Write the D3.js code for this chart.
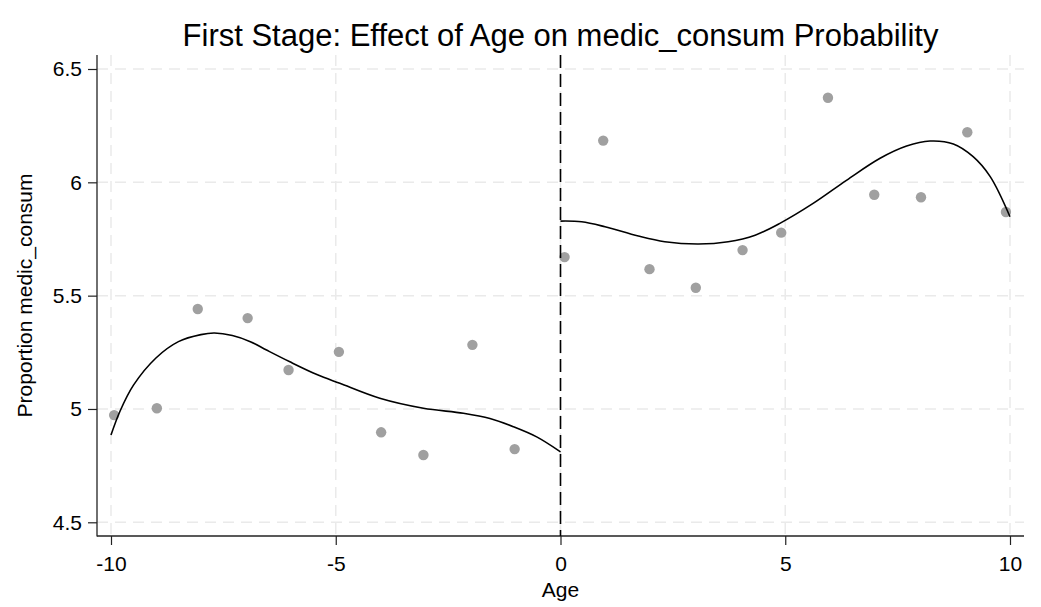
<!DOCTYPE html>
<html>
<head>
<meta charset="utf-8">
<script src="https://cdn.jsdelivr.net/npm/d3@7"></script>
<style>
  html, body { margin: 0; padding: 0; background: #fff; }
  svg { display: block; font-family: "Liberation Sans", Arial, sans-serif; }
</style>
</head>
<body>
<svg id="chart" width="1041" height="607"></svg>
<script>
// ---- data ----
const titleText = "First Stage: Effect of Age on medic_consum Probability";
const xLabel = "Age";
const yLabel = "Proportion medic_consum";
const xTicks = [-10, -5, 0, 5, 10];
const yTicks = [4.5, 5, 5.5, 6, 6.5];

// binned means
const binX = [-9.93, -8.98, -8.07, -6.96, -6.05, -4.93, -3.99, -3.05, -1.96, -1.02,
              0.09, 0.95, 1.98, 3.01, 4.05, 4.91, 5.95, 6.98, 8.02, 9.05, 9.91];
const binY = [4.973, 5.003, 5.441, 5.401, 5.172, 5.252, 4.897, 4.797, 5.283, 4.823,
              5.670, 6.184, 5.617, 5.535, 5.701, 5.778, 6.373, 5.945, 5.934, 6.221, 5.869];

// fitted polynomial (left of cutoff)
const leftFitX = [-10, -9.8, -9.5, -9, -8.5, -8, -7.7, -7.3, -6.9, -6.54, -6.02,
                  -5.42, -4.91, -4.02, -3.05, -2.16, -1.57, -1.05, -0.53, 0];
const leftFitY = [4.885, 4.990, 5.105, 5.225, 5.297, 5.328, 5.335, 5.324, 5.297, 5.260, 5.208,
                  5.152, 5.113, 5.047, 5.003, 4.981, 4.958, 4.922, 4.877, 4.811];
// fitted polynomial (right of cutoff)
const rightFitX = [0, 0.47, 0.99, 1.73, 2.32, 3.07, 3.73, 4.33, 4.88, 5.62, 6.37,
                   7.11, 7.70, 8.22, 8.74, 9.18, 9.56, 10];
const rightFitY = [5.829, 5.826, 5.804, 5.763, 5.738, 5.728, 5.738, 5.767, 5.819, 5.907, 6.010,
                   6.106, 6.160, 6.182, 6.169, 6.113, 6.025, 5.848];

const cutoff = 0;

// ---- layout ----
const svg = d3.select("#chart");
const x = d3.scaleLinear().domain([-10, 10]).range([111, 1010]);
const y = d3.scaleLinear().domain([4.5, 6.5]).range([522.3, 69]);
const plotLeft = 97, plotRight = 1024, plotTop = 55, plotBottom = 536;

// gridlines
const grid = svg.append("g");
grid.selectAll("line.h").data(yTicks).join("line")
  .attr("x1", plotLeft).attr("x2", plotRight)
  .attr("y1", d => y(d)).attr("y2", d => y(d))
  .attr("stroke", "#eaeaea").attr("stroke-width", 1.5)
  .attr("stroke-dasharray", "11,7");
grid.selectAll("line.v").data(xTicks).join("line")
  .attr("y1", plotTop).attr("y2", plotBottom)
  .attr("x1", d => x(d)).attr("x2", d => x(d))
  .attr("stroke", "#eaeaea").attr("stroke-width", 1.5)
  .attr("stroke-dasharray", "11,7");

// axes
const yAxis = svg.append("g").attr("transform", `translate(${plotLeft},0)`)
  .call(d3.axisLeft(y).tickValues(yTicks).tickFormat(d3.format("")).tickSize(9).tickPadding(6));
const xAxis = svg.append("g").attr("transform", `translate(0,${plotBottom})`)
  .call(d3.axisBottom(x).tickValues(xTicks).tickFormat(d3.format("")).tickSize(9).tickPadding(11));
[yAxis, xAxis].forEach(g => {
  g.select(".domain").remove();
  g.selectAll(".tick line").attr("stroke", "#222").attr("stroke-width", 1.2);
  g.selectAll(".tick text").attr("fill", "#000").style("font-size", "21px")
    .style("font-family", "'Liberation Sans', Arial, sans-serif");
});
xAxis.selectAll(".tick text").text(d => d < 0 ? "-" + Math.abs(d) : d);
svg.append("line").attr("x1", plotLeft).attr("x2", plotLeft)
  .attr("y1", plotTop).attr("y2", plotBottom + 0.6)
  .attr("stroke", "#222").attr("stroke-width", 1.3);
svg.append("line").attr("x1", plotLeft).attr("x2", plotRight)
  .attr("y1", plotBottom).attr("y2", plotBottom)
  .attr("stroke", "#222").attr("stroke-width", 1.3);

// points
svg.append("g").selectAll("circle").data(binX.map((d, i) => [d, binY[i]])).join("circle")
  .attr("cx", d => x(d[0])).attr("cy", d => y(d[1])).attr("r", 5.2)
  .attr("fill", "#a0a0a0");

// fitted curves
const line = d3.line().x(d => x(d[0])).y(d => y(d[1])).curve(d3.curveCatmullRom.alpha(0.5));
svg.append("path").datum(leftFitX.map((d, i) => [d, leftFitY[i]]))
  .attr("d", line).attr("fill", "none").attr("stroke", "#000").attr("stroke-width", 1.6);
svg.append("path").datum(rightFitX.map((d, i) => [d, rightFitY[i]]))
  .attr("d", line).attr("fill", "none").attr("stroke", "#000").attr("stroke-width", 1.6);

// cutoff line
svg.append("line").attr("x1", x(cutoff)).attr("x2", x(cutoff))
  .attr("y1", plotTop).attr("y2", plotBottom)
  .attr("stroke", "#000").attr("stroke-width", 1.6).attr("stroke-dasharray", "13,6");

// titles
svg.append("text").attr("x", 560.5).attr("y", 46).attr("text-anchor", "middle")
  .style("font-size", "31px").attr("fill", "#000").text(titleText);
svg.append("text").attr("x", 560.5).attr("y", 597).attr("text-anchor", "middle")
  .style("font-size", "21px").attr("fill", "#000").text(xLabel);
svg.append("text").attr("transform", `translate(32,295.5) rotate(-90)`).attr("text-anchor", "middle")
  .style("font-size", "21px").attr("fill", "#000").text(yLabel);
</script>
</body>
</html>
